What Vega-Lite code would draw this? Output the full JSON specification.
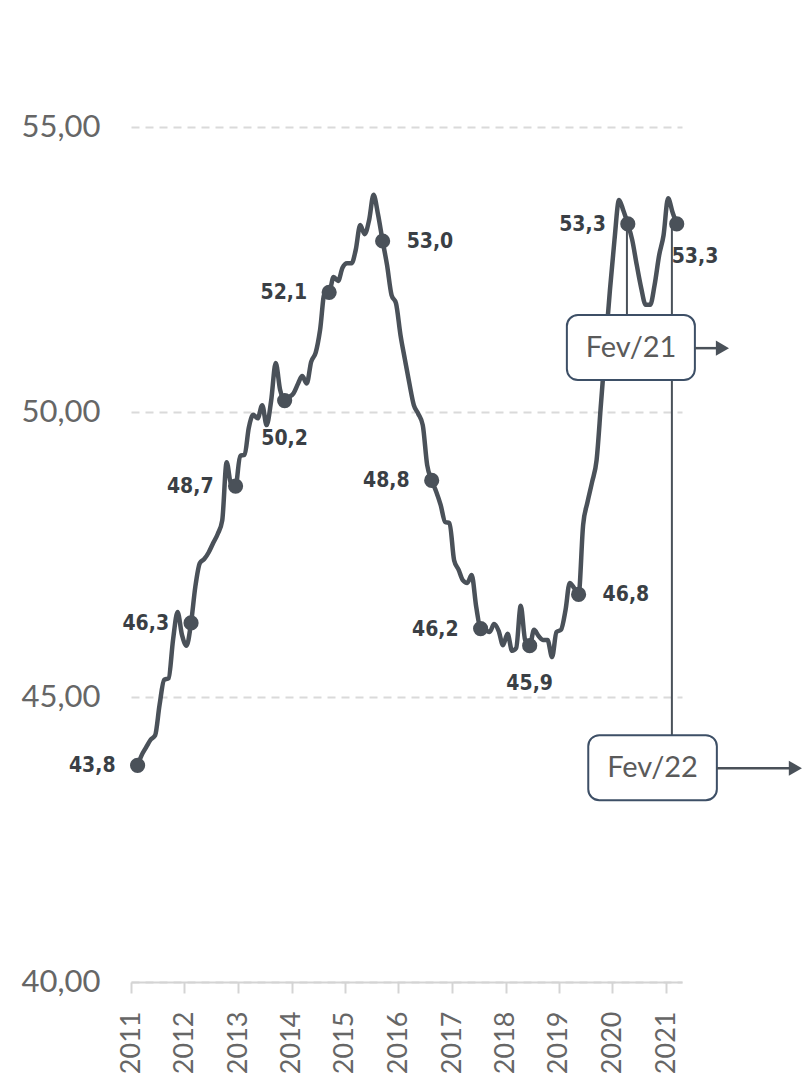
{
  "$schema": "https://vega.github.io/schema/vega-lite/v6.json",
  "width": 551,
  "height": 855,
  "autosize": {"type": "none"},
  "padding": {"left": 131, "top": 127, "right": 126, "bottom": 99},
  "background": "white",
  "config": {
    "locale": {"number": {"decimal": ",", "thousands": ".", "grouping": [3], "currency": ["R$", ""]}},
    "view": {"stroke": null},
    "font": "Lato"
  },
  "datasets": {
    "series": [
      {"date": "2011-02-15", "value": 43.8},
      {"date": "2011-03-15", "value": 43.98},
      {"date": "2011-04-15", "value": 44.12},
      {"date": "2011-05-15", "value": 44.25},
      {"date": "2011-06-15", "value": 44.33},
      {"date": "2011-07-15", "value": 44.86},
      {"date": "2011-08-15", "value": 45.3},
      {"date": "2011-09-15", "value": 45.33},
      {"date": "2011-10-15", "value": 46.0},
      {"date": "2011-11-15", "value": 46.49},
      {"date": "2011-12-15", "value": 46.09},
      {"date": "2012-01-15", "value": 45.9},
      {"date": "2012-02-15", "value": 46.3},
      {"date": "2012-03-15", "value": 46.93},
      {"date": "2012-04-15", "value": 47.35},
      {"date": "2012-05-15", "value": 47.42},
      {"date": "2012-06-15", "value": 47.54},
      {"date": "2012-07-15", "value": 47.7},
      {"date": "2012-08-15", "value": 47.86},
      {"date": "2012-09-15", "value": 48.1},
      {"date": "2012-10-15", "value": 49.12},
      {"date": "2012-11-15", "value": 48.72},
      {"date": "2012-12-15", "value": 48.7},
      {"date": "2013-01-15", "value": 49.23},
      {"date": "2013-02-15", "value": 49.25},
      {"date": "2013-03-15", "value": 49.72},
      {"date": "2013-04-15", "value": 49.95},
      {"date": "2013-05-15", "value": 49.89},
      {"date": "2013-06-15", "value": 50.12},
      {"date": "2013-07-15", "value": 49.77},
      {"date": "2013-08-15", "value": 50.2},
      {"date": "2013-09-15", "value": 50.86},
      {"date": "2013-10-15", "value": 50.39},
      {"date": "2013-11-15", "value": 50.2},
      {"date": "2013-12-15", "value": 50.26},
      {"date": "2014-01-15", "value": 50.33},
      {"date": "2014-02-15", "value": 50.5},
      {"date": "2014-03-15", "value": 50.63},
      {"date": "2014-04-15", "value": 50.5},
      {"date": "2014-05-15", "value": 50.88},
      {"date": "2014-06-15", "value": 51.04},
      {"date": "2014-07-15", "value": 51.44},
      {"date": "2014-08-15", "value": 52.09},
      {"date": "2014-09-15", "value": 52.1},
      {"date": "2014-10-15", "value": 52.37},
      {"date": "2014-11-15", "value": 52.3},
      {"date": "2014-12-15", "value": 52.53},
      {"date": "2015-01-15", "value": 52.61},
      {"date": "2015-02-15", "value": 52.61},
      {"date": "2015-03-15", "value": 52.84},
      {"date": "2015-04-15", "value": 53.28},
      {"date": "2015-05-15", "value": 53.12},
      {"date": "2015-06-15", "value": 53.37},
      {"date": "2015-07-15", "value": 53.81},
      {"date": "2015-08-15", "value": 53.46},
      {"date": "2015-09-15", "value": 53.0},
      {"date": "2015-10-15", "value": 52.58},
      {"date": "2015-11-15", "value": 52.05},
      {"date": "2015-12-15", "value": 51.91},
      {"date": "2016-01-15", "value": 51.35},
      {"date": "2016-02-15", "value": 50.91},
      {"date": "2016-03-15", "value": 50.51},
      {"date": "2016-04-15", "value": 50.12},
      {"date": "2016-05-15", "value": 49.97},
      {"date": "2016-06-15", "value": 49.77},
      {"date": "2016-07-15", "value": 49.07},
      {"date": "2016-08-15", "value": 48.8},
      {"date": "2016-09-15", "value": 48.6},
      {"date": "2016-10-15", "value": 48.37},
      {"date": "2016-11-15", "value": 48.07},
      {"date": "2016-12-15", "value": 48.05},
      {"date": "2017-01-15", "value": 47.4},
      {"date": "2017-02-15", "value": 47.23},
      {"date": "2017-03-15", "value": 47.05},
      {"date": "2017-04-15", "value": 47.0},
      {"date": "2017-05-15", "value": 47.14},
      {"date": "2017-06-15", "value": 46.58},
      {"date": "2017-07-15", "value": 46.2},
      {"date": "2017-08-15", "value": 46.18},
      {"date": "2017-09-15", "value": 46.14},
      {"date": "2017-10-15", "value": 46.28},
      {"date": "2017-11-15", "value": 46.16},
      {"date": "2017-12-15", "value": 45.91},
      {"date": "2018-01-15", "value": 46.11},
      {"date": "2018-02-15", "value": 45.81},
      {"date": "2018-03-15", "value": 45.86},
      {"date": "2018-04-15", "value": 46.6},
      {"date": "2018-05-15", "value": 46.0},
      {"date": "2018-06-15", "value": 45.9},
      {"date": "2018-07-15", "value": 46.18},
      {"date": "2018-08-15", "value": 46.07},
      {"date": "2018-09-15", "value": 46.0},
      {"date": "2018-10-15", "value": 46.0},
      {"date": "2018-11-15", "value": 45.7},
      {"date": "2018-12-15", "value": 46.14},
      {"date": "2019-01-15", "value": 46.18},
      {"date": "2019-02-15", "value": 46.53},
      {"date": "2019-03-15", "value": 47.0},
      {"date": "2019-04-15", "value": 46.91},
      {"date": "2019-05-15", "value": 46.8},
      {"date": "2019-06-15", "value": 48.02},
      {"date": "2019-07-15", "value": 48.42},
      {"date": "2019-08-15", "value": 48.77},
      {"date": "2019-09-15", "value": 49.16},
      {"date": "2019-10-15", "value": 50.15},
      {"date": "2019-11-15", "value": 51.18},
      {"date": "2019-12-15", "value": 52.14},
      {"date": "2020-01-15", "value": 53.02},
      {"date": "2020-02-15", "value": 53.72},
      {"date": "2020-03-15", "value": 53.54},
      {"date": "2020-04-15", "value": 53.3},
      {"date": "2020-05-15", "value": 53.02},
      {"date": "2020-06-15", "value": 52.58},
      {"date": "2020-07-15", "value": 52.18},
      {"date": "2020-08-15", "value": 51.88},
      {"date": "2020-09-15", "value": 51.88},
      {"date": "2020-10-15", "value": 52.23},
      {"date": "2020-11-15", "value": 52.75},
      {"date": "2020-12-15", "value": 53.1},
      {"date": "2021-01-15", "value": 53.75},
      {"date": "2021-02-15", "value": 53.5},
      {"date": "2021-03-15", "value": 53.3}
    ],
    "points": [
      {"date": "2011-02-15", "value": 43.8},
      {"date": "2012-02-15", "value": 46.3},
      {"date": "2012-12-15", "value": 48.7},
      {"date": "2013-11-15", "value": 50.2},
      {"date": "2014-09-15", "value": 52.1},
      {"date": "2015-09-15", "value": 53.0},
      {"date": "2016-08-15", "value": 48.8},
      {"date": "2017-07-15", "value": 46.2},
      {"date": "2018-06-15", "value": 45.9},
      {"date": "2019-05-15", "value": 46.8},
      {"date": "2020-04-15", "value": 53.3},
      {"date": "2021-03-15", "value": 53.3}
    ],
    "markers": [
      {"date": "2020-04-09", "value": 53.32, "bottom": 51.7},
      {"date": "2021-02-10", "value": 53.3, "bottom": 44.33}
    ],
    "boxes": [
      {"label": "Fev/21", "start": "2019-02-24", "end": "2021-07-17", "low": 50.56, "high": 51.7, "center": "2020-05-07", "mid": 51.12, "tip": "2022-01-21"},
      {"label": "Fev/22", "start": "2019-07-20", "end": "2021-12-14", "low": 43.19, "high": 44.33, "center": "2020-10-01", "mid": 43.75, "tip": "2023-06-03"}
    ]
  },
  "layer": [
    {
      "data": {"name": "series"},
      "mark": {"type": "line", "color": "#4a5159", "strokeWidth": 4.5, "interpolate": "monotone", "strokeJoin": "round", "strokeCap": "round"},
      "encoding": {
        "x": {
          "field": "date", "type": "temporal", "title": null,
          "scale": {"type": "utc", "nice": false, "domain": [{"year": 2011, "month": 1, "date": 1, "utc": true}, {"year": 2021, "month": 4, "date": 20, "utc": true}]},
          "axis": {
            "format": "%Y", "tickCount": {"interval": "year", "step": 1},
            "labelAngle": -90, "labelAlign": "right", "labelBaseline": "middle",
            "labelFontSize": 27, "labelColor": "#666666", "labelFont": "Lato",
            "labelPadding": 18, "tickSize": 11, "tickColor": "#d4d4d4", "tickWidth": 2,
            "domainColor": "#d4d4d4", "domainWidth": 2, "grid": false,
            "labelFlush": false, "labelOverlap": false
          }
        },
        "y": {
          "field": "value", "type": "quantitative", "title": null,
          "scale": {"domain": [40, 55], "nice": false, "zero": false},
          "axis": {
            "values": [40, 45, 50, 55], "format": ".2f",
            "labelFontSize": 31, "labelColor": "#666666", "labelFont": "Lato",
            "labelPadding": 31, "ticks": false, "domain": false,
            "grid": true, "gridDash": [8, 6], "gridColor": "#dadada", "gridWidth": 2
          }
        }
      }
    },
    {
      "data": {"name": "markers"},
      "mark": {"type": "rule", "color": "#4a5159", "strokeWidth": 2},
      "encoding": {
        "x": {"field": "date", "type": "temporal"},
        "y": {"field": "value", "type": "quantitative"},
        "y2": {"field": "bottom"}
      }
    },
    {
      "data": {"name": "points"},
      "mark": {"type": "point", "filled": true, "size": 230, "color": "#4a5159", "opacity": 1},
      "encoding": {
        "x": {"field": "date", "type": "temporal"},
        "y": {"field": "value", "type": "quantitative"}
      }
    },
    {
      "data": {"name": "points"},
      "transform": [{"filter": "indexof([43.8, 46.3, 48.7, 52.1, 48.8, 46.2, 53.3], datum.value) >= 0 && utcyear(datum.date) < 2021"}],
      "mark": {"type": "text", "align": "right", "baseline": "middle", "dx": -22, "dy": 1, "fontSize": 21, "fontWeight": "bold", "font": "DejaVu Sans Condensed", "color": "#3a3f45"},
      "encoding": {
        "x": {"field": "date", "type": "temporal"},
        "y": {"field": "value", "type": "quantitative"},
        "text": {"field": "value", "type": "quantitative", "format": ".1f"}
      }
    },
    {
      "data": {"name": "points"},
      "transform": [{"filter": "indexof([53.0, 46.8], datum.value) >= 0"}],
      "mark": {"type": "text", "align": "left", "baseline": "middle", "dx": 24, "dy": 1, "fontSize": 21, "fontWeight": "bold", "font": "DejaVu Sans Condensed", "color": "#3a3f45"},
      "encoding": {
        "x": {"field": "date", "type": "temporal"},
        "y": {"field": "value", "type": "quantitative"},
        "text": {"field": "value", "type": "quantitative", "format": ".1f"}
      }
    },
    {
      "data": {"name": "points"},
      "transform": [{"filter": "indexof([50.2, 45.9], datum.value) >= 0"}],
      "mark": {"type": "text", "align": "center", "baseline": "middle", "dy": 38, "fontSize": 21, "fontWeight": "bold", "font": "DejaVu Sans Condensed", "color": "#3a3f45"},
      "encoding": {
        "x": {"field": "date", "type": "temporal"},
        "y": {"field": "value", "type": "quantitative"},
        "text": {"field": "value", "type": "quantitative", "format": ".1f"}
      }
    },
    {
      "data": {"name": "points"},
      "transform": [{"filter": "datum.value == 53.3 && utcyear(datum.date) == 2021"}],
      "mark": {"type": "text", "align": "left", "baseline": "middle", "dx": -5, "dy": 33, "fontSize": 21, "fontWeight": "bold", "font": "DejaVu Sans Condensed", "color": "#3a3f45"},
      "encoding": {
        "x": {"field": "date", "type": "temporal"},
        "y": {"field": "value", "type": "quantitative"},
        "text": {"field": "value", "type": "quantitative", "format": ".1f"}
      }
    },
    {
      "data": {"name": "boxes"},
      "mark": {"type": "rect", "fill": "white", "stroke": "#3d4f66", "strokeWidth": 2, "cornerRadius": 11},
      "encoding": {
        "x": {"field": "start", "type": "temporal"},
        "x2": {"field": "end"},
        "y": {"field": "high", "type": "quantitative"},
        "y2": {"field": "low"}
      }
    },
    {
      "data": {"name": "boxes"},
      "mark": {"type": "text", "align": "center", "baseline": "middle", "fontSize": 29, "font": "Lato", "color": "#5a5a5a"},
      "encoding": {
        "x": {"field": "center", "type": "temporal"},
        "y": {"field": "mid", "type": "quantitative"},
        "text": {"field": "label"}
      }
    },
    {
      "data": {"name": "boxes"},
      "mark": {"type": "rule", "color": "#4a5159", "strokeWidth": 2.5},
      "encoding": {
        "x": {"field": "end", "type": "temporal"},
        "x2": {"field": "tip"},
        "y": {"field": "mid", "type": "quantitative"}
      }
    },
    {
      "data": {"name": "boxes"},
      "mark": {"type": "point", "shape": "triangle-right", "filled": true, "size": 230, "color": "#4a5159", "opacity": 1},
      "encoding": {
        "x": {"field": "tip", "type": "temporal"},
        "y": {"field": "mid", "type": "quantitative"}
      }
    }
  ]
}
